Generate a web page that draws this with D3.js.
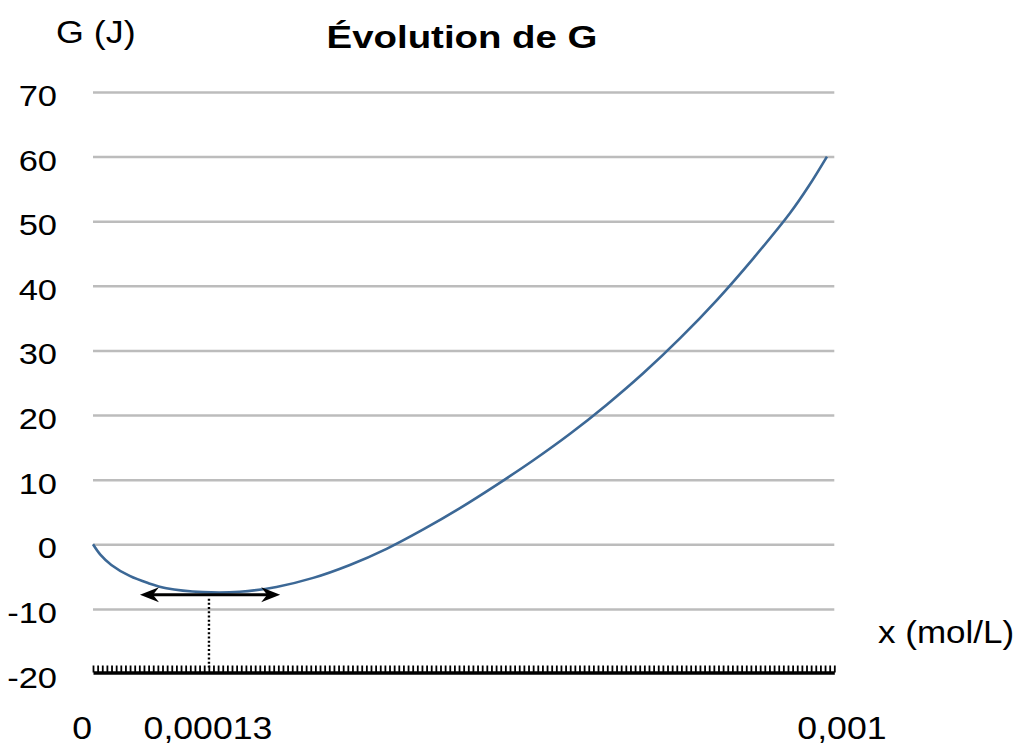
<!DOCTYPE html>
<html>
<head>
<meta charset="utf-8">
<script src="https://cdn.jsdelivr.net/npm/d3@7"></script>
<style>
  html, body { margin: 0; padding: 0; background: #fff; }
  svg { display: block; font-family: 'Liberation Sans', Arial, Helvetica, sans-serif; }
</style>
</head>
<body>
<div id="chart"></div>
<script>
// x in mol/L, G in J
const xValues = [0, 0.00001, 0.000025, 0.00005, 0.000075, 0.0001, 0.00015, 0.0002, 0.00025,
  0.0003, 0.00035, 0.0004, 0.00045, 0.0005, 0.00055, 0.0006, 0.00065, 0.0007, 0.00075,
  0.0008, 0.00085, 0.0009, 0.00095, 0.000975, 0.001]
const gValues = [0, -1.6, -3.2, -4.9, -6.0, -6.8, -7.4, -7.35, -6.6,
  -5.2, -3.2, -0.7, 2.3, 5.6, 9.2, 13.0, 17.1, 21.6, 26.5,
  31.9, 37.8, 44.3, 51.3, 55.4, 60]

const yTicks = [70, 60, 50, 40, 30, 20, 10, 0, -10, -20]
const xLabels = [
  { value: 0, text: '0' },
  { value: 0.000158, text: '0,00013' },
  { value: 0.001, text: '0,001' }
]
// minimum marker: double arrow + dotted drop line
const minX = 0.000158
const arrowFrom = 0.000064
const arrowTo = 0.000255
const arrowG = -7.8

const title = 'Évolution de G'
const yTitle = 'G (J)'
const xTitle = 'x (mol/L)'

const width = 1021
const height = 747
const xEnd = 0.00101
const nTicks = 160

const x = d3.scaleLinear().domain([0, xEnd]).range([93, 834.3])
const y = d3.scaleLinear().domain([-20, 70]).range([673.5, 92])

const svg = d3.select('#chart').append('svg')
  .attr('width', width)
  .attr('height', height)

svg.append('rect').attr('width', width).attr('height', height).attr('fill', '#fff')

// text is a bit wider than Arial in the original, stretch it horizontally
const label = (str, px, py, opts = {}) => svg.append('text')
  .attr('transform', `translate(${px},${py}) scale(${opts.sx || 1.15},1)`)
  .attr('text-anchor', opts.anchor || 'start')
  .attr('font-size', opts.size || 30)
  .attr('font-weight', opts.weight || 'normal')
  .attr('fill', '#000')
  .text(str)

// gridlines
const grid = svg.append('g')
  .attr('transform', `translate(${x(0)},0)`)
  .call(d3.axisLeft(y)
    .tickValues(yTicks.filter(v => v > -20))
    .tickSize(-(x(xEnd) - x(0)))
    .tickFormat(''))
grid.select('.domain').remove()
grid.selectAll('.tick line')
  .attr('stroke', '#bcbcbc')
  .attr('stroke-width', 2.5)

// y labels
yTicks.forEach(v => label(String(v), 57, y(v) + 14, { anchor: 'end' }))

// x axis with dense upward ticks
const xAxis = svg.append('g')
  .attr('transform', `translate(0,${y(-20) - 1})`)
  .call(d3.axisBottom(x)
    .tickValues(d3.range(nTicks + 1).map(i => i * xEnd / nTicks))
    .tickSize(-7)
    .tickSizeOuter(0)
    .tickFormat(''))
xAxis.select('.domain').attr('stroke', '#000').attr('stroke-width', 3.5)
xAxis.selectAll('.tick line').attr('stroke', '#000').attr('stroke-width', 1.8)

// curve
const line = d3.line()
  .x((d, i) => x(xValues[i]))
  .y(d => y(d))
  .curve(d3.curveCatmullRom.alpha(0.5))

svg.append('path')
  .datum(gValues)
  .attr('d', line)
  .attr('fill', 'none')
  .attr('stroke', '#3c6896')
  .attr('stroke-width', 2.6)

// dotted drop line at the minimum
svg.append('line')
  .attr('x1', x(minX)).attr('x2', x(minX))
  .attr('y1', y(arrowG) + 4).attr('y2', y(-20) - 6)
  .attr('stroke', '#000')
  .attr('stroke-width', 2.4)
  .attr('stroke-dasharray', '2,2.2')

// double arrow
const ay = y(arrowG)
const xa = x(arrowFrom)
const xb = x(arrowTo)
svg.append('line')
  .attr('x1', xa + 10).attr('x2', xb - 10)
  .attr('y1', ay).attr('y2', ay)
  .attr('stroke', '#000')
  .attr('stroke-width', 3)
svg.append('path')
  .attr('d', `M${xb},${ay} L${xb - 19},${ay - 7.5} L${xb - 13},${ay} L${xb - 19},${ay + 7.5} Z`)
  .attr('fill', '#000')
svg.append('path')
  .attr('d', `M${xa},${ay} L${xa + 19},${ay - 7.5} L${xa + 13},${ay} L${xa + 19},${ay + 7.5} Z`)
  .attr('fill', '#000')

// x labels
label(xLabels[0].text, x(xLabels[0].value) - 1, 739, { anchor: 'end', size: 31 })
label(xLabels[1].text, x(xLabels[1].value) - 1, 739, { anchor: 'middle', size: 31 })
label(xLabels[2].text, x(xLabels[2].value) + 15, 739, { anchor: 'middle', size: 31 })

// titles
label(title, 462, 48, { anchor: 'middle', size: 32, weight: 'bold', sx: 1.2 })
label(yTitle, 56, 43, { size: 32, sx: 1.12 })
label(xTitle, 878, 643, { size: 31, sx: 1.13 })
</script>
</body>
</html>
